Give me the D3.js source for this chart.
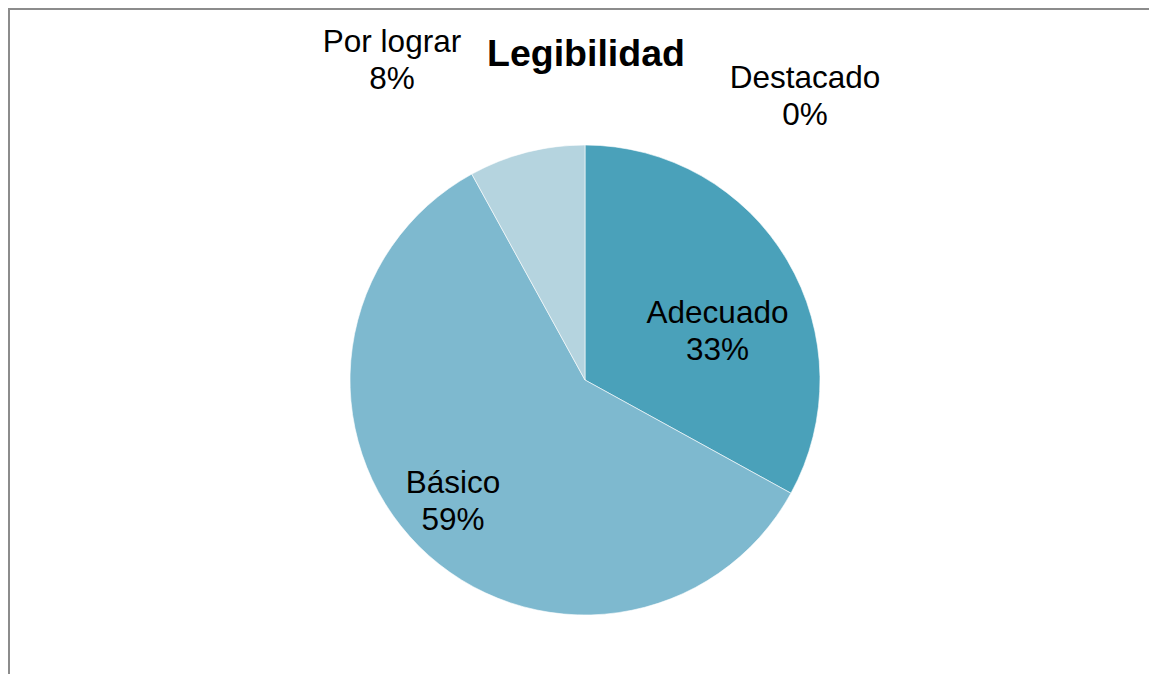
<!DOCTYPE html>
<html>
<head>
<meta charset="utf-8">
<script src="https://cdn.jsdelivr.net/npm/d3@7"></script>
<style>
  body { margin: 0; background: #fff; }
  svg { display: block; font-family: "Liberation Sans", Arial, sans-serif; }
</style>
</head>
<body>
<div id="chart"></div>
<script>
  // Datos del gráfico
  var categories = ['Destacado', 'Adecuado', 'Básico', 'Por lograr'];
  var values = [0, 33, 59, 8];
  var labels = ['0%', '33%', '59%', '8%'];
  var colors = ['#2f7f98', '#4aa1ba', '#7eb9cf', '#b5d4df'];

  var width = 1149;
  var height = 674;
  var cx = 585, cy = 380, radius = 235;

  var svg = d3.select('#chart')
      .append('svg')
      .attr('width', width)
      .attr('height', height);

  // Marco del área del gráfico
  svg.append('rect')
      .attr('x', 9)
      .attr('y', 9)
      .attr('width', width + 20)
      .attr('height', height + 20)
      .attr('fill', 'none')
      .attr('stroke', '#8c8c8c')
      .attr('stroke-width', 2);

  // Título
  svg.append('text')
      .attr('x', 586)
      .attr('y', 66)
      .attr('text-anchor', 'middle')
      .attr('font-size', 37.5)
      .attr('font-weight', 'bold')
      .text('Legibilidad');

  var data = categories.map(function(c, i) {
      return { name: c, value: values[i], label: labels[i], color: colors[i] };
  });

  var pie = d3.pie()
      .sort(null)
      .value(function(d) { return d.value; });

  var arc = d3.arc()
      .innerRadius(0)
      .outerRadius(radius);

  var g = svg.append('g')
      .attr('transform', 'translate(' + cx + ',' + cy + ')');

  var arcs = pie(data);

  g.selectAll('path')
      .data(arcs)
      .enter().append('path')
      .attr('d', arc)
      .attr('fill', function(d) { return d.data.color; })
      .attr('stroke', '#fff')
      .attr('stroke-width', function(d) { return d.data.value > 0 ? 0.6 : 0; });

  // Posición de etiquetas (primera línea) respecto al centro
  var labelPos = {
      'Destacado': [220, -292],
      'Adecuado': [132.5, -57],
      'Básico': [-132, 113],
      'Por lograr': [-193, -328]
  };

  var lineH = 37;
  arcs.forEach(function(d) {
      var p = labelPos[d.data.name];
      var t = g.append('text')
          .attr('text-anchor', 'middle')
          .attr('font-size', 31.5)
          .attr('fill', '#000');
      t.append('tspan')
          .attr('x', p[0])
          .attr('y', p[1])
          .text(d.data.name);
      t.append('tspan')
          .attr('x', p[0])
          .attr('y', p[1] + lineH)
          .text(d.data.label);
  });
</script>
</body>
</html>
